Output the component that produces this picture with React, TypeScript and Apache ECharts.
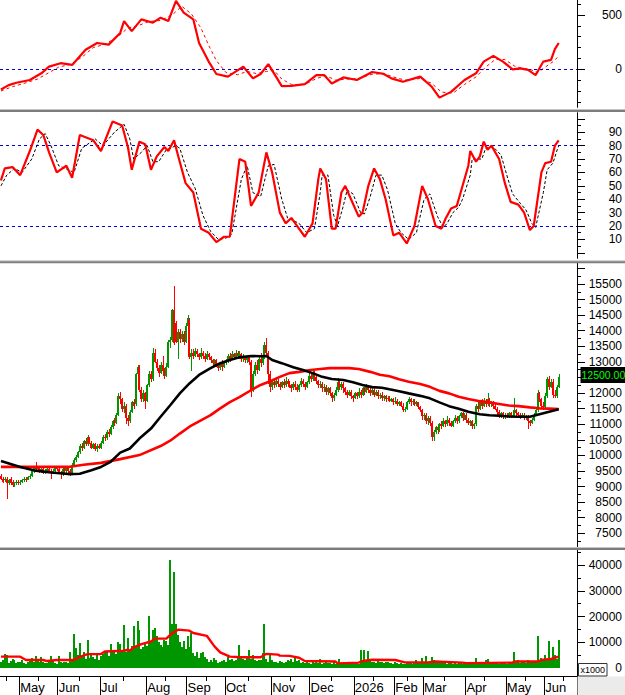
import React, { useEffect, useRef } from "react";
import * as echarts from "echarts";

const FONT = "'Liberation Sans', Arial, sans-serif";
const N_SLOTS = 300;
const categories = Array.from({ length: N_SLOTS }, (_, i) => String(i));

const monthIndex = [10, 30, 52, 76, 97, 117, 141, 161, 184, 205, 220, 242, 263, 283];
const monthLabels = ["May", "Jun", "Jul", "Aug", "Sep", "Oct", "Nov", "Dec", "2026", "Feb", "Mar", "Apr", "May", "Jun"];
const midMonthIndex = [3, 20, 41, 64, 86, 107, 129, 151, 172, 194, 212, 231, 252, 273, 293];

// [open, close, low, high]
const candles = [
[9350,9250,9200,9400],[9250,9150,9100,9300],[9200,9250,9150,9300],[9250,9100,8600,9300],[9100,9200,9050,9250],[9250,9100,9050,9300],
[9150,9050,9000,9200],[9050,9100,9000,9150],[9100,9150,9050,9200],[9150,9100,9050,9200],[9100,9150,9050,9200],[9150,9200,9100,9250],
[9200,9250,9150,9300],[9250,9200,9150,9300],[9200,9300,9200,9350],[9300,9350,9250,9400],[9350,9500,9300,9550],[9500,9600,9450,9650],
[9600,9550,9500,9780],[9550,9600,9500,9650],[9600,9500,9450,9650],[9500,9550,9450,9600],[9550,9450,9400,9600],[9450,9500,9400,9550],
[9500,9550,9450,9600],[9550,9500,9450,9600],[9500,9450,9250,9550],[9450,9500,9400,9550],[9500,9600,9450,9650],[9600,9550,9500,9650],
[9550,9450,9400,9600],[9450,9400,9250,9500],[9400,9550,9350,9600],[9550,9500,9450,9600],[9500,9600,9450,9650],[9600,9500,9400,9650],
[9500,9450,9350,9550],
[9450,9700,9400,9750],[9700,9850,9650,9900],[9850,9950,9800,10000],[9950,10100,9900,10150],
[10100,10300,10050,10350],[10300,10250,10150,10400],[10250,10450,10200,10500],[10450,10350,10300,10550],[10350,10600,10300,10650],
[10600,10400,10350,10600],[10400,10250,10200,10450],[10250,10350,10200,10400],[10350,10200,10150,10400],[10200,10300,10100,10350],[10300,10250,10200,10350],[10250,10400,10200,10450],
[10400,10600,10350,10650],[10600,10550,10450,10700],[10550,10750,10500,10800],[10750,10700,10600,10850],[10700,10900,10650,10970],
[10900,11100,10850,11150],[11100,11050,10950,11200],[11050,11300,11000,11350],
[11300,11900,11250,12000],[11900,11800,11650,12050],
[11800,11500,11400,11850],[11500,11600,11350,11700],[11600,11200,11000,11650],[11200,11100,10950,11300],
[11100,11400,11050,11450],[11400,11700,11350,11750],[11700,11600,11500,11800],
[11650,12600,11600,12650],[12600,12850,12500,12900],[12850,12100,12050,12900],
[12100,11800,11700,12200],[11800,12000,11700,12100],[12000,11750,11500,12050],[11750,12250,11700,12300],
[12250,12600,12200,12700],[12600,12450,12350,12700],
[12450,13300,12400,13450],[13300,13000,12950,13400],[13000,12800,12700,13100],[12800,12650,12500,12900],[12650,12900,12600,13000],[12900,12700,12600,13200],[12700,12550,12450,12800],
[12550,12850,12500,12950],[12850,13650,12800,13700],[13650,13700,13450,13800],
[13700,14650,13650,14700],[14650,13600,13550,15450],[14250,13650,13600,14300],
[13650,13950,13100,14050],[13950,13750,13600,14050],[13750,13900,13650,14000],[13900,13650,13550,14000],[13650,14150,13600,14250],[14150,14400,14000,14500],
[14350,13150,13100,14400],[13150,13300,12700,13400],
[13300,13200,13100,13400],[13200,13350,13150,13450],[13350,13250,13150,13400],[13250,13150,13050,13300],
[13150,13300,13100,13450],[13300,13200,13100,13350],[13200,13100,13000,13300],[13100,13250,13050,13350],[13250,13150,13050,13300],[13150,13050,12950,13200],
[13050,12950,12850,13100],[12950,13050,12900,13100],[13050,12900,12850,13100],
[12900,12800,12700,12950],[12800,12950,12750,13000],[12950,12850,12700,13050],[12850,12950,12800,13000],[12950,13000,12900,13100],
[13000,13200,12950,13250],[13200,13100,13000,13300],[13100,13250,13050,13350],[13250,13150,13050,13300],[13150,13300,13100,13380],[13300,13200,13100,13350],[13200,13250,13100,13350],[13250,13100,13000,13300],[13100,13200,13000,13250],
[13200,13050,12950,13200],[13050,13150,12950,13200],[13150,13000,12900,13200],
[13000,12100,11880,13050],
[12100,12600,12050,12700],[12600,12900,12550,13000],[12900,12750,12600,13050],[12750,13100,12700,13200],[13100,12950,12850,13270],[12950,13150,12900,13250],
[13150,13550,13100,13650],[13550,13300,13200,13770],[13300,12600,12300,13350],
[12600,12200,12050,12700],[12200,12350,12100,12450],
[12350,12250,12150,12450],[12250,12400,12200,12500],[12400,12300,12200,12450],[12300,12200,12100,12350],[12200,12350,12150,12400],[12350,12250,12150,12450],[12250,12400,12200,12500],[12400,12300,12200,12450],[12300,12250,12150,12400],
[12250,12150,12050,12300],[12150,12300,12100,12350],[12300,12200,12100,12400],[12200,12100,12050,12300],[12100,12250,12050,12300],[12250,12400,12200,12470],[12400,12300,12200,12450],[12300,12200,12100,12350],[12200,12350,12150,12400],
[12350,12550,12300,12650],[12550,12450,12350,12650],[12450,12650,12400,12740],[12650,12500,12400,12700],[12500,12400,12300,12550],
[12400,12250,12150,12420],[12250,12300,12150,12400],[12300,12150,12050,12350],[12150,12200,12050,12300],[12200,12050,11950,12250],[12050,12150,11950,12200],[12150,12000,11900,12200],
[12000,11850,11720,12050],[11850,11950,11750,12000],[11950,12100,11900,12200],
[12100,12350,12050,12470],[12350,12200,12100,12400],[12200,12300,12100,12350],[12300,12150,12000,12350],[12150,12050,11950,12200],
[12050,11950,11850,12100],[11950,12050,11900,12100],[12050,11900,11800,12100],[11900,11850,11720,11950],[11850,12000,11800,12050],[12000,11900,11800,12050],[11900,12050,11850,12150],[12050,11950,11850,12100],
[11950,12150,11900,12200],[12150,12050,11950,12200],[12050,12200,12000,12300],[12200,12100,12000,12250],[12100,12000,11900,12150],[12000,12100,11950,12150],[12100,11950,11880,12150],[11950,12050,11900,12100],
[12050,11900,11800,12100],[11900,11950,11800,12000],[11950,11850,11750,12040],[11850,11900,11750,11950],[11900,11800,11720,11950],[11800,11850,11750,11900],[11850,11750,11700,11900],[11750,11800,11700,11850],
[11800,11700,11610,11850],[11700,11750,11650,11880],[11750,11650,11600,11800],[11650,11700,11600,11750],[11700,11600,11550,11750],
[11600,11450,11400,11670],[11450,11500,11400,11550],
[11500,11700,11450,11750],[11700,11800,11650,11880],[11800,11700,11600,11850],[11700,11750,11610,11800],[11750,11650,11600,11800],[11650,11700,11600,11750],
[11700,11550,11500,11720],[11550,11450,11400,11600],
[11450,11250,11150,11500],[11250,11300,11150,11350],[11300,11100,11000,11350],[11100,11200,10970,11250],[11200,11050,10950,11250],
[11050,10600,10450,11100],[10600,10750,10450,10800],
[10750,10900,10700,10950],[10900,10800,10700,11000],[10800,11000,10750,11050],[11000,10950,10850,11100],[10950,11100,10900,11200],[11100,11000,10900,11150],
[11000,11150,10950,11250],[11150,11050,10950,11200],[11050,10950,10920,11100],[10950,11100,10900,11150],[11100,11200,11050,11290],[11200,11100,11000,11250],[11100,11250,11050,11300],
[11250,11350,11200,11400],[11350,11200,11100,11400],[11200,11300,11150,11350],[11300,11150,11050,11350],[11150,11050,10970,11200],[11050,11100,10950,11150],
[11100,10950,10860,11150],[10950,11000,10860,11050],
[11000,11600,10950,11650],[11600,11500,11400,11700],
[11500,11700,11450,11780],[11700,11600,11500,11800],[11600,11750,11550,11830],[11750,11650,11550,11800],[11650,11800,11600,11990],[11800,11650,11550,11850],[11650,11700,11550,11750],[11700,11600,11500,11750],[11600,11500,11450,11650],
[11500,11400,11300,11560],[11400,11300,11200,11450],[11300,11350,11200,11400],[11350,11250,11180,11400],[11250,11300,11180,11350],[11300,11250,11200,11350],
[11250,11350,11200,11400],[11350,11250,11200,11400],[11250,11300,11200,11350],[11300,11450,11250,11830],
[11450,11350,11250,11500],[11350,11300,11200,11400],[11300,11250,11180,11350],[11250,11300,11200,11350],[11300,11200,11150,11350],[11200,11250,11150,11300],
[11250,11100,10860,11290],[11100,11050,10950,11150],[11050,11150,11000,11200],
[11150,11300,11100,11350],[11300,11450,11250,11560],
[11450,12000,11400,12100],
[12000,11800,11700,12050],[11800,11600,11500,11850],[11600,11550,11450,11700],[11550,11900,11500,12000],
[11900,12450,11850,12500],[12450,12200,12100,12550],[12200,12350,12150,12450],[12350,11950,11850,12450],[11950,11900,11850,12100],[11900,12200,11850,12250],[12200,12500,12150,12600],
];

// moving averages [barIndex, value]
const maFast = [[0,9820],[10,9630],[17,9520],[26,9450],[35,9400],[41,9410],[47,9520],[52,9630],[57,9790],[62,10090],[67,10220],[72,10540],[78,10860],[83,11240],[88,11610],[93,11990],[98,12310],[103,12580],[109,12800],[114,12960],[119,13060],[124,13150],[130,13190],[135,13180],[138,13190],[141,13060],[146,12960],[152,12830],[157,12740],[162,12640],[167,12520],[172,12450],[178,12420],[183,12350],[188,12260],[193,12190],[198,12170],[202,12120],[207,12060],[212,11990],[218,11910],[223,11830],[228,11700],[233,11580],[238,11500],[243,11400],[249,11320],[254,11290],[259,11270],[264,11250],[269,11240],[275,11240],[280,11320],[285,11400],[290,11480]];
const maSlow = [[0,9630],[17,9630],[35,9630],[43,9700],[52,9760],[62,9880],[72,10010],[83,10300],[88,10470],[93,10700],[98,10920],[103,11090],[109,11290],[114,11510],[119,11710],[124,11870],[130,12090],[135,12260],[140,12380],[145,12520],[150,12640],[155,12680],[161,12740],[166,12770],[171,12800],[176,12800],[181,12800],[186,12770],[192,12680],[197,12590],[202,12540],[207,12440],[212,12360],[218,12290],[223,12200],[228,12070],[233,11990],[238,11880],[243,11810],[249,11740],[254,11700],[259,11650],[264,11600],[269,11580],[275,11540],[280,11510],[285,11500],[290,11490]];

const volume = [
2500,3000,5500,5000,2000,2800,3500,3200,1800,2200,
2500,3000,2000,1500,2200,2800,3800,2500,4700,3000,
2200,4200,2500,1800,2000,2500,4700,2800,2000,1600,
4700,2500,2000,2500,2400,2000,6400,3000,13300,7700,
5000,9700,4500,6400,3500,11000,4000,5800,4200,3500,
5000,3200,4500,5500,6700,6400,4500,9300,7000,6400,
5500,10000,9500,7000,16600,6400,11600,7000,8500,16200,
8000,18400,14900,7500,8000,9700,8500,20000,10000,14900,
15500,12300,10000,9000,8000,11000,10500,9000,42000,16900,
37400,16900,13000,10000,8000,10500,7500,12300,8000,13600,
5800,4500,6400,4000,6000,6400,4400,3500,2500,3000,
2200,4000,3000,2000,2500,2800,3000,2200,4400,3000,
3500,2800,3000,4000,8800,4400,3500,3000,4000,7000,
3500,5000,3000,2800,3200,3000,5800,16900,3500,2500,
5000,3000,2200,2500,2000,2800,2500,1800,2500,3000,
2800,3500,2500,4000,2800,3200,2000,2500,1800,2200,
2000,1500,2500,1800,2200,2000,3500,1600,2000,2400,
1800,2000,1500,2200,1600,1800,3500,2000,1500,1800,
2000,1600,2200,1500,1800,2000,1700,7000,2500,7000,
3000,6600,3000,2500,2200,2000,2800,2500,2200,2000,
2500,2200,1800,2000,1600,2400,1800,1500,2000,1700,
1600,2000,1800,2200,1600,2500,3000,2000,1800,4000,
2200,4700,2500,2200,4400,3000,2500,2000,2200,1800,
2500,2000,1600,2200,1800,1500,2000,1600,2200,1800,
1500,1800,1600,2000,1500,1800,2000,4000,2500,2200,
1800,2500,3000,3500,2000,2200,1800,2500,2000,1600,
2000,1800,2200,1600,2000,1800,2500,6100,2200,3000,
2000,2500,2200,1800,3000,2200,2500,2800,2400,12500,
3000,4000,2800,5000,3500,10500,4000,8200,5000,3500,10900,
];
const volumeMA = [[0,4400],[10,4400],[13,3100],[22,3100],[24,2700],[29,3100],[38,3100],[40,4000],[45,5400],[52,5400],[54,6400],[64,6700],[66,7100],[67,6700],[69,8000],[73,9300],[78,10300],[80,11400],[86,11400],[88,12900],[92,14900],[98,14500],[100,13600],[107,12500],[111,8400],[114,6100],[119,4400],[125,4200],[135,4200],[138,5500],[144,5200],[145,4800],[150,4700],[155,4000],[158,2700],[174,2500],[175,1800],[186,2100],[188,2700],[193,3200],[205,3100],[210,2200],[222,2200],[226,2500],[240,2100],[242,1900],[266,2100],[267,2500],[279,2500],[281,3100],[286,3500],[290,4400]];

// top oscillator
const oscMain = [[0,-186],[4,-146],[8,-124],[15,-99],[21,-37],[25,25],[31,56],[37,40],[44,180],[50,242],[56,227],[62,335],[64,444],[68,351],[73,460],[79,429],[83,475],[87,444],[91,630],[95,522],[100,460],[103,242],[108,71],[112,-43],[118,-68],[122,-22],[126,25],[131,-84],[135,-43],[139,47],[143,-68],[146,-155],[151,-152],[158,-137],[164,-53],[168,-53],[172,-130],[178,-75],[185,-99],[193,-25],[199,-43],[203,-84],[209,-115],[218,-68],[224,-161],[228,-261],[234,-208],[241,-99],[247,-37],[251,71],[256,124],[261,71],[266,0],[270,9],[274,-6],[278,-53],[282,71],[286,87],[288,186],[290,242]];
const oscSignal = [[0,-200],[6,-160],[12,-130],[19,-90],[25,-30],[30,20],[36,45],[42,110],[48,200],[54,230],[60,290],[66,380],[71,400],[77,440],[83,450],[89,500],[94,580],[99,510],[104,380],[108,220],[112,80],[117,-30],[123,-50],[128,-20],[133,-40],[138,-20],[142,-10],[146,-90],[151,-140],[158,-140],[164,-85],[169,-60],[174,-100],[180,-90],[186,-85],[193,-45],[199,-40],[204,-70],[210,-100],[218,-85],[224,-130],[229,-210],[235,-220],[241,-140],[247,-70],[252,20],[257,90],[262,90],[267,30],[271,10],[275,0],[279,-30],[283,20],[287,70],[290,120]];

// stochastic
const stochK = [[0,54],[2,63],[6,64],[10,58],[15,76],[19,92],[22,88],[25,75],[29,60],[34,65],[37,56],[41,88],[48,84],[52,76],[58,98],[63,95],[66,79],[68,62],[72,83],[75,81],[78,62],[81,72],[85,79],[87,76],[90,84],[92,73],[96,52],[100,45],[104,18],[108,15],[112,8],[116,12],[119,12],[124,70],[127,68],[130,35],[134,45],[138,75],[141,60],[145,30],[148,22],[151,26],[154,20],[158,12],[162,22],[165,55],[166,63],[169,55],[172,18],[174,18],[177,45],[179,50],[182,40],[186,27],[188,30],[191,50],[194,63],[197,55],[200,40],[204,13],[207,15],[211,7],[215,20],[219,50],[222,40],[226,20],[229,18],[231,25],[234,33],[237,35],[239,45],[243,65],[244,76],[247,68],[249,72],[251,83],[253,77],[255,80],[259,70],[262,52],[265,38],[269,36],[272,30],[275,17],[277,20],[281,60],[283,67],[286,68],[288,80],[290,84]];
const stochD = [[0,50],[3,58],[7,63],[11,60],[16,70],[20,85],[23,89],[26,80],[30,65],[35,62],[38,60],[42,78],[49,85],[53,80],[59,90],[64,96],[67,85],[69,70],[73,75],[76,80],[79,68],[82,68],[86,77],[88,78],[91,80],[93,78],[97,60],[101,48],[105,28],[109,16],[113,10],[117,11],[120,14],[125,55],[128,65],[131,45],[135,42],[139,65],[142,66],[146,40],[149,26],[152,24],[155,22],[159,15],[163,18],[166,45],[167,58],[170,58],[173,28],[175,20],[178,35],[180,47],[183,44],[187,30],[189,29],[192,42],[195,58],[198,58],[201,47],[205,22],[208,15],[212,10],[216,15],[220,40],[223,44],[227,27],[230,19],[232,22],[235,30],[238,34],[240,40],[244,58],[245,70],[248,70],[250,70],[252,78],[254,79],[256,79],[260,73],[263,58],[266,44],[270,37],[273,32],[276,22],[278,19],[282,45],[284,62],[287,67],[289,76],[290,80]];

const stochLevels = [80, 20];
const oscLevels = [0];

const W = 577;
const GREEN = "#009600";
const RED = "#ff0000";
const BLUE = "#0000dd";

const monthMap = new Map(monthIndex.map((idx, k) => [idx, monthLabels[k]]));
const midSet = new Set(midMonthIndex);
const candleRows = candles.map((c, i) => [i, c[0], c[1], c[2], c[3]]);
const volumeRows = volume.map((v, i) => [i, v]);

function hiddenCat(gridIndex: number) {
  return { type: "category", gridIndex, data: categories, show: false, boundaryGap: true };
}
function hiddenVal(gridIndex: number) {
  return { type: "value", gridIndex, show: false, min: 0, max: 1 };
}
function dataY(gridIndex: number, min: number, max: number) {
  return {
    type: "value", gridIndex, position: "right", min, max,
    axisLine: { show: true, onZero: false, lineStyle: { color: "#000", width: 1 } },
    axisTick: { show: false }, axisLabel: { show: false }, splitLine: { show: false },
  };
}
function tickY(gridIndex: number, min: number, max: number, interval: number, len: number, fmt?: (v: number) => string) {
  return {
    type: "value", gridIndex, position: "right", min, max, interval,
    axisLine: { show: false, onZero: false },
    axisTick: { show: true, length: len, lineStyle: { color: "#000", width: 1 } },
    axisLabel: fmt
      ? { show: true, align: "right", margin: 45, color: "#000", fontSize: 12, fontFamily: FONT, formatter: fmt }
      : { show: false },
    splitLine: { show: false },
  };
}
function levelLine(values: number[]) {
  return {
    silent: true, symbol: ["none", "none"], animation: false,
    label: { show: false },
    lineStyle: { color: BLUE, type: [3, 3], width: 1, opacity: 1 },
    emphasis: { disabled: true },
    data: values.map((v) => ({ yAxis: v, lineStyle: { color: BLUE } })),
  };
}
function sepRects(y: number) {
  return [
    { type: "rect", z: 100, silent: true, shape: { x: 0, y, width: 625, height: 1 }, style: { fill: "#c4c4c4" } },
    { type: "rect", z: 100, silent: true, shape: { x: 0, y: y + 1, width: 625, height: 2 }, style: { fill: "#7c7c7c" } },
  ];
}

function renderCandle(params: any, api: any) {
  const i = api.value(0);
  const o = api.value(1);
  const c = api.value(2);
  const l = api.value(3);
  const h = api.value(4);
  const pO = api.coord([i, o]);
  const pC = api.coord([i, c]);
  const pL = api.coord([i, l]);
  const pH = api.coord([i, h]);
  const x = Math.round(pO[0] - 1);
  const yTop = Math.round(Math.min(pO[1], pC[1]));
  const yBot = Math.round(Math.max(pO[1], pC[1]));
  const yH = Math.round(pH[1]);
  const yL = Math.round(pL[1]);
  const color = c >= o ? GREEN : RED;
  return {
    type: "group",
    children: [
      { type: "rect", shape: { x: x + 1, y: yH, width: 1, height: Math.max(1, yL - yH) }, style: { fill: color } },
      { type: "rect", shape: { x, y: yTop, width: 2, height: Math.max(1, yBot - yTop) }, style: { fill: color } },
    ],
  };
}

function renderVolume(params: any, api: any) {
  const i = api.value(0);
  const v = api.value(1);
  const pTop = api.coord([i, v]);
  const pBase = api.coord([i, 0]);
  const x = Math.round(pTop[0] - 1);
  const yT = Math.round(pTop[1]);
  const yB = Math.round(pBase[1]);
  return { type: "rect", shape: { x, y: yT, width: 2, height: Math.max(1, yB - yT) }, style: { fill: GREEN } };
}

export default function App() {
  const ref = useRef<HTMLDivElement>(null);
  useEffect(() => {
    if (!ref.current) return;
    const chart = echarts.init(ref.current, undefined, { renderer: "svg" });
    const lastClose = candles[candles.length - 1][1];

    const baseGraphics: any[] = [
      ...sepRects(109),
      ...sepRects(260.3),
      ...sepRects(547),
      { type: "rect", z: 100, silent: true, shape: { x: 577.5, y: 676.5, width: 48, height: 19 }, style: { fill: "#ebebeb" } },
      { type: "rect", z: 100, silent: true, shape: { x: 578.5, y: 663.5, width: 28.5, height: 12.5 }, style: { fill: "#ffffff", stroke: "#333333", lineWidth: 1 } },
      { type: "text", z: 101, silent: true, x: 580.5, y: 670, style: { text: "x1000", fontSize: 9, fontFamily: FONT, fill: "#000", verticalAlign: "middle" } },
    ];

    const option: any = {
      animation: false,
      backgroundColor: "#ffffff",
      textStyle: { fontFamily: FONT },
      grid: [
        { left: 0, top: 0, width: W, height: 107.3 },
        { left: 0, top: 15, width: W, height: 54.3 },
        { left: 0, top: 4.14, width: W, height: 97.76 },
        { left: 0, top: 112.7, width: W, height: 145.6 },
        { left: 0, top: 118.86, width: W, height: 133.95 },
        { left: 0, top: 263.3, width: W, height: 283.2 },
        { left: 0, top: 268.42, width: W, height: 264.86 },
        { left: 0, top: 268.42, width: W, height: 272.65 },
        { left: 0, top: 550, width: W, height: 126 },
        { left: 0, top: 565, width: W, height: 103 },
        { left: 0, top: 552.125, width: W, height: 115.875 },
      ],
      xAxis: [
        hiddenCat(0), hiddenVal(1), hiddenVal(2), hiddenCat(3), hiddenVal(4), hiddenCat(5), hiddenVal(6), hiddenVal(7),
        {
          type: "category", gridIndex: 8, data: categories, position: "bottom", boundaryGap: true,
          axisLine: { show: true, onZero: false, lineStyle: { color: "#000", width: 1 } },
          axisTick: { show: true, length: 19, interval: (i: number) => monthMap.has(i), lineStyle: { color: "#000", width: 1 } },
          axisLabel: {
            show: true, interval: (i: number) => monthMap.has(i),
            formatter: (v: string) => monthMap.get(Number(v)) ?? "",
            align: "left", margin: 5, fontSize: 13, color: "#000", fontFamily: FONT,
          },
          splitLine: { show: false },
        },
        {
          type: "category", gridIndex: 8, data: categories, position: "bottom", boundaryGap: true,
          axisLine: { show: false, onZero: false },
          axisTick: { show: true, length: 5, interval: (i: number) => midSet.has(i), lineStyle: { color: "#000", width: 1 } },
          axisLabel: { show: false },
          splitLine: { show: false },
        },
        hiddenVal(9), hiddenVal(10),
      ],
      yAxis: [
        dataY(0, -350, 638),
        tickY(1, 0, 500, 500, 8, (v) => String(v)),
        tickY(2, -300, 600, 100, 4),
        dataY(3, -4.1, 104.6),
        tickY(4, 0, 100, 10, 8, (v) => (v <= 0 || v >= 100 ? "" : String(v))),
        tickY(4, 0, 100, 5, 4),
        dataY(5, 7076, 16164),
        tickY(6, 7500, 16000, 500, 8, (v) => (v >= 16000 || v === lastClose ? "" : String(v))),
        tickY(7, 7250, 16000, 250, 4),
        dataY(8, -3107, 45825),
        tickY(9, 0, 40000, 10000, 8, (v) => String(v)),
        tickY(10, 0, 45000, 5000, 4),
      ],
      series: [
        {
          name: "osc", type: "line", xAxisIndex: 0, yAxisIndex: 0, data: oscMain, showSymbol: false, z: 5,
          lineStyle: { color: RED, width: 2.2 }, markLine: levelLine(oscLevels),
        },
        {
          name: "oscSignal", type: "line", xAxisIndex: 0, yAxisIndex: 0, data: oscSignal, showSymbol: false, z: 4,
          lineStyle: { color: RED, width: 1, type: [3, 3] },
        },
        {
          name: "stochK", type: "line", xAxisIndex: 3, yAxisIndex: 3, data: stochK, showSymbol: false, z: 5,
          lineStyle: { color: RED, width: 2.2 }, markLine: levelLine(stochLevels),
        },
        {
          name: "stochD", type: "line", xAxisIndex: 3, yAxisIndex: 3, data: stochD, showSymbol: false, z: 4,
          lineStyle: { color: "#000", width: 1, type: [3, 2] },
        },
        {
          name: "price", type: "custom", xAxisIndex: 5, yAxisIndex: 6, data: candleRows,
          encode: { x: 0, y: [1, 2, 3, 4] }, clip: false, renderItem: renderCandle, z: 3,
        },
        {
          name: "maSlow", type: "line", xAxisIndex: 5, yAxisIndex: 6, data: maSlow, showSymbol: false, z: 6,
          lineStyle: { color: RED, width: 2.6 },
        },
        {
          name: "maFast", type: "line", xAxisIndex: 5, yAxisIndex: 6, data: maFast, showSymbol: false, z: 7,
          lineStyle: { color: "#000", width: 2.6 },
        },
        {
          name: "volume", type: "custom", xAxisIndex: 8, yAxisIndex: 9, data: volumeRows,
          encode: { x: 0, y: 1 }, clip: false, renderItem: renderVolume, z: 3,
        },
        {
          name: "volumeMA", type: "line", xAxisIndex: 8, yAxisIndex: 9, data: volumeMA, showSymbol: false, z: 6,
          lineStyle: { color: RED, width: 2.4 },
        },
      ],
      graphic: baseGraphics,
    };
    chart.setOption(option);

    const py = chart.convertToPixel({ yAxisIndex: 6 }, lastClose) as number;
    chart.setOption({
      graphic: [
        ...baseGraphics,
        { type: "rect", z: 110, silent: true, shape: { x: 580.5, y: Math.round(py) - 10, width: 45, height: 16 }, style: { fill: "#000" } },
        {
          type: "text", z: 111, silent: true, x: 581.5, y: Math.round(py) - 2,
          style: { text: lastClose.toFixed(2), fontSize: 10.5, fontFamily: FONT, fill: "#00ff00", verticalAlign: "middle" },
        },
      ],
    });
    return () => chart.dispose();
  }, []);
  return <div ref={ref} style={{ position: "fixed", left: 0, top: 0, width: 625, height: 695, background: "#fff" }} />;
}
